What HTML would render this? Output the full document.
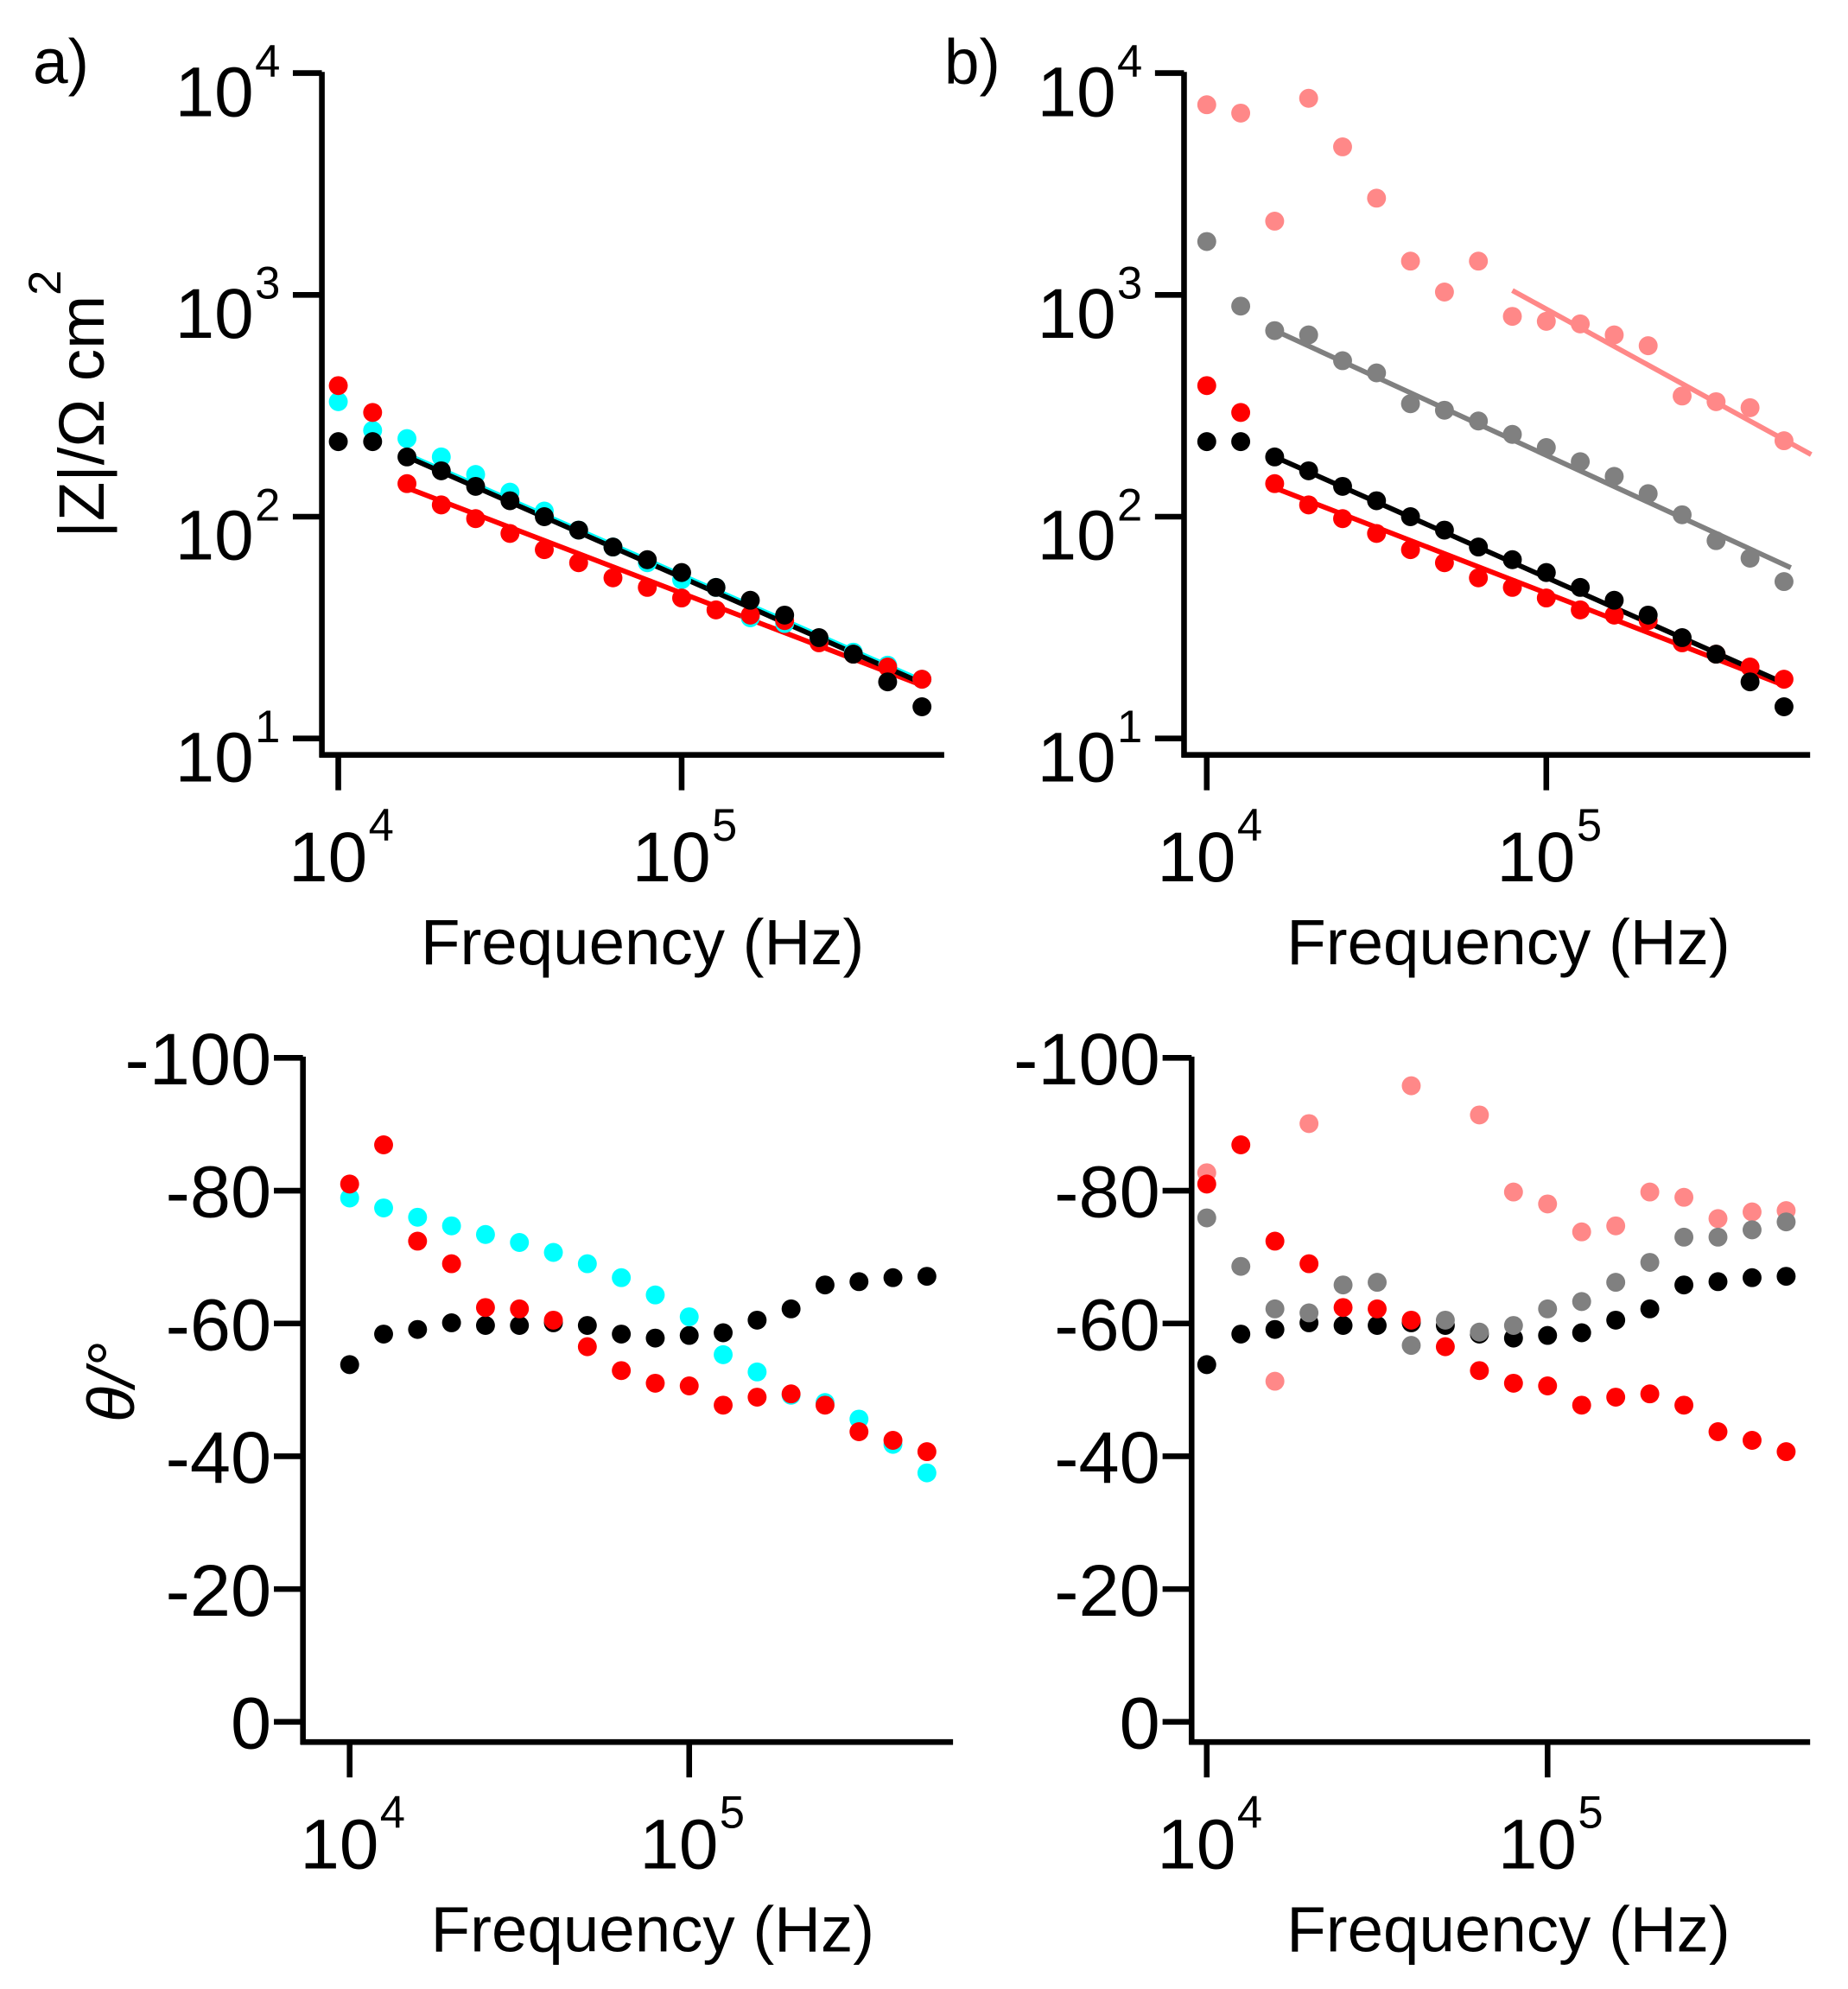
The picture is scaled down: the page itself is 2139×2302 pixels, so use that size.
<!DOCTYPE html>
<html><head><meta charset="utf-8">
<style>
html,body{margin:0;padding:0;background:#fff;}
svg{display:block;font-family:"Liberation Sans",Arial,sans-serif;}
</style></head>
<body>
<svg id="fig" width="2139" height="2302" viewBox="0 0 1464 1575.6" preserveAspectRatio="none" xmlns="http://www.w3.org/2000/svg">
<text x="26" y="66" font-size="50">a)</text>
<text x="748" y="66" font-size="50">b)</text>
</svg>
<script>
// frequencies: log10 exponent 4.0 .. 5.7
const logFreq = [4.0,4.1,4.2,4.3,4.4,4.5,4.6,4.7,4.8,4.9,5.0,5.1,5.2,5.3,5.4,5.5,5.6,5.7];
// |Z| values (ohm cm^2)
const zBlack = [218,218,186,161,137,118,100,87,73,64,56,48,42,36,28.5,24,18,13.9];
const zRed   = [390,295,141,113,98,84,71,62,53,48,43,38,36,34,27,24,21,18.5];
const zCyan  = [330,245,225,186,155,129,106,87,73,62,52,48,35,33,27.5,24.5,21.4,18.5];
const zGray  = [1740,890,690,660,505,445,323,302,270,235,205,177,152,127,102,78,65,51];
const zPink  = [7200,6600,2150,7700,4650,2730,1420,1030,1420,800,760,740,660,590,350,330,310,220];
// fit lines: [logFreqStart, log|Z|Start, logFreqEnd, log|Z|End]
const fitBlack = [4.2,2.27,5.7,1.25];
const fitRed   = [4.2,2.13,5.7,1.24];
const fitCyan  = [4.2,2.28,5.7,1.26];
const fitGray  = [4.2,2.84,5.72,1.77];
const fitPink  = [4.9,3.02,5.78,2.28];
// phase values (degrees)
const thBlack = [-53.8,-58.4,-59.1,-60.1,-59.7,-59.7,-60.1,-59.7,-58.4,-57.8,-58.2,-58.6,-60.5,-62.2,-65.8,-66.3,-66.9,-67.1];
const thRed   = [-81,-86.9,-72.4,-69,-62.4,-62.2,-60.5,-56.5,-52.9,-51,-50.6,-47.7,-48.9,-49.4,-47.7,-43.7,-42.4,-40.7];
const thCyan  = [-78.9,-77.4,-76,-74.7,-73.4,-72.2,-70.7,-69,-66.9,-64.3,-61,-55.3,-52.7,-49.2,-48.1,-45.6,-41.8,-37.5];
const thGray  = [-75.9,-68.6,-62.2,-61.6,-65.8,-66.2,-56.7,-60.5,-58.7,-59.7,-62.2,-63.3,-66.2,-69.2,-73,-73,-74.1,-75.3];
const thPink  = [-82.7,null,-51.3,-90.1,null,null,-95.8,null,-91.4,-79.8,-78,-73.8,-74.7,-79.8,-79,-75.8,-76.8,-77];
const zTickExp = [1,2,3,4];
const thTicks = [0,-20,-40,-60,-80,-100];

const NS="http://www.w3.org/2000/svg";
const svg=document.getElementById('fig');
function mk(tag,attrs,parent){const e=document.createElementNS(NS,tag);for(const k in attrs)e.setAttribute(k,attrs[k]);(parent||svg).appendChild(e);return e;}

const C={black:'#000',red:'#f00',cyan:'#0ff',gray:'#808080',pink:'#f88'};

function panel(p){
  const g=mk('g',{});
  
  
  const sx=lf=>p.x4+(lf-4)*p.dec;
  const sy=p.sy;
  const ya=mk('line',{x1:p.ax,y1:p.yTop,x2:p.ax,y2:p.ay+2,stroke:'#000','stroke-width':4.5},g);
  
  
  const xa=mk('line',{x1:p.ax-2,y1:p.ay,x2:p.xEnd,y2:p.ay,stroke:'#000','stroke-width':4.5},g);
  
  
  [4,5].forEach(e=>{
    const x=sx(e);
    const t=mk('line',{x1:x,y1:p.ay,x2:x,y2:p.ay+28,stroke:'#000','stroke-width':4.5},g);
    
    
    const tl=mk('text',{x:x+23,y:p.ay+100,'font-size':56,'text-anchor':'end'},g);
    tl.textContent='10';
    
    
    const ts=mk('text',{x:x+24,y:p.ay+68,'font-size':36},g);
    ts.textContent=String(e);
    
    
  });
  const xt=mk('text',{x:p.xtx,y:p.ay+166,'font-size':51,'text-anchor':'middle'},g);
  xt.textContent='Frequency (Hz)';
  
  
  p.yticks.forEach(v=>{
    const y=sy(v);
    const t=mk('line',{x1:p.ax-23,y1:y,x2:p.ax,y2:y,stroke:'#000','stroke-width':4.5},g);
    
    
    if(p.log){
      const tl=mk('text',{x:p.ax-54,y:y+34,'font-size':56,'text-anchor':'end'},g);
      tl.textContent='10';
      
      
      const ts=mk('text',{x:p.ax-53,y:y+3,'font-size':36},g);
      ts.textContent=String(v);
      
      
    }else{
      const tl=mk('text',{x:p.ax-25,y:y+21,'font-size':58,'text-anchor':'end'},g);
      tl.textContent=String(v);
      
      
    }
  });
  (p.fits||[]).forEach(f=>{
    const l=mk('line',{x1:sx(f.d[0]),y1:sy(f.d[1]),x2:sx(f.d[2]),y2:sy(f.d[3]),stroke:f.c,'stroke-width':4},g);
    
    
  });
  p.series.forEach(s=>{
    s.d.forEach((v,i)=>{
      if(v===null)return;
      const yv=p.log?Math.log10(v):v;
      const c=mk('circle',{cx:sx(logFreq[i]),cy:sy(yv),r:7.5,fill:s.c},g);
      
      
    });
  });
}
const zy=v=>585-(v-1)*175.7;
const ty=v=>1364+v*5.26;
panel({name:'panel-a-impedance',log:true,ax:255,ay:598,yTop:57,xEnd:748,x4:268,dec:272,sy:zy,yticks:zTickExp,xtx:509,
  fits:[{n:'fit-line-cyan',c:C.cyan,d:fitCyan},{n:'fit-line-red',c:C.red,d:fitRed},{n:'fit-line-black',c:C.black,d:fitBlack}],
  series:[{n:'point-cyan',c:C.cyan,d:zCyan},{n:'point-red',c:C.red,d:zRed},{n:'point-black',c:C.black,d:zBlack}]});
panel({name:'panel-b-impedance',log:true,ax:938,ay:598,yTop:57,xEnd:1434,x4:956,dec:269,sy:zy,yticks:zTickExp,xtx:1195,
  fits:[{n:'fit-line-pink',c:C.pink,d:fitPink},{n:'fit-line-gray',c:C.gray,d:fitGray},{n:'fit-line-red',c:C.red,d:fitRed},{n:'fit-line-black',c:C.black,d:fitBlack}],
  series:[{n:'point-pink',c:C.pink,d:zPink},{n:'point-gray',c:C.gray,d:zGray},{n:'point-red',c:C.red,d:zRed},{n:'point-black',c:C.black,d:zBlack}]});
panel({name:'panel-a-phase',log:false,ax:240,ay:1380,yTop:837,xEnd:755,x4:277,dec:269,sy:ty,yticks:thTicks,xtx:517,
  series:[{n:'point-black',c:C.black,d:thBlack},{n:'point-cyan',c:C.cyan,d:thCyan},{n:'point-red',c:C.red,d:thRed}]});
panel({name:'panel-b-phase',log:false,ax:944,ay:1380,yTop:837,xEnd:1434,x4:956,dec:270,sy:ty,yticks:thTicks,xtx:1195,
  series:[{n:'point-pink',c:C.pink,d:thPink},{n:'point-black',c:C.black,d:thBlack},{n:'point-gray',c:C.gray,d:thGray},{n:'point-red',c:C.red,d:thRed}]});

const yt1=mk('text',{transform:'translate(82,330) rotate(-90)','font-size':51,'text-anchor':'middle'});
yt1.textContent='|Z|/Ω cm';


const yt1s=mk('text',{transform:'translate(48,224) rotate(-90)','font-size':36,'text-anchor':'middle'});
yt1s.textContent='2';


const yt2=mk('text',{transform:'translate(106,1095) rotate(-90)','font-size':52,'text-anchor':'middle','font-style':'italic'});
yt2.textContent='θ/°';


</script>
</body></html>
